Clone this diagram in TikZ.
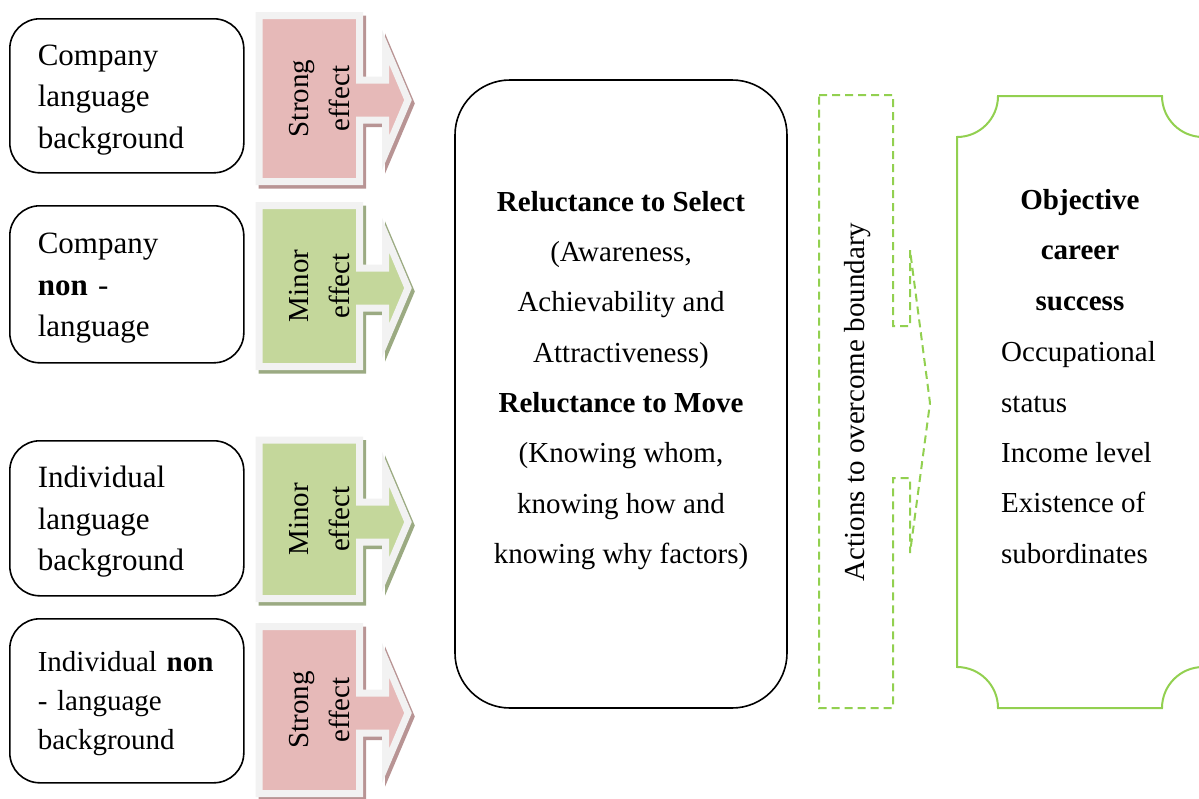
\documentclass[tikz,border=0pt]{standalone}
\usepackage{fontspec}
\setmainfont{Liberation Serif}
\definecolor{pinkfill}{RGB}{230,185,184}
\definecolor{greenfill}{RGB}{196,215,155}
\definecolor{pinkshadow}{RGB}{184,148,148}
\definecolor{greenshadow}{RGB}{155,170,130}
\definecolor{rimgray}{RGB}{242,242,242}
\definecolor{leafgreen}{RGB}{146,208,80}
\newcommand{\topstrut}{\rule{0pt}{29pt}}
\tikzset{
  srcbox/.style={draw=black, line width=1.6pt, rounded corners=30pt,
    minimum width=234pt, text width=178pt, inner xsep=28pt, inner ysep=0pt,
    align=left, anchor=north west},
  bigtext/.style={font=\fontsize{31}{41.5}\selectfont},
  smalltext/.style={font=\fontsize{29}{39}\selectfont},
  bodytext/.style={font=\fontsize{29}{50.3}\selectfont},
  efftext/.style={rotate=90, align=center, font=\fontsize{29}{41}\selectfont},
  rimline/.style={draw=rimgray, line width=7pt, line join=miter},
  greenline/.style={draw=leafgreen, line width=2pt},
  greendash/.style={draw=leafgreen, line width=2pt, dash pattern=on 8pt off 5pt}
}
\newcommand{\effectarrow}[7]{%
  \filldraw[fill=#6, draw=#6, line width=7pt, shift={(3,3.5)}]
    (259,{#2}) -- (359.5,{#2}) -- (359.5,{#4-20}) -- (385.5,{#4-20}) -- (385.5,{#4-53})
    -- (408,{#4}) -- (385.5,{#4+53}) -- (385.5,{#4+20}) -- (359.5,{#4+20})
    -- (359.5,{#3}) -- (259,{#3}) -- cycle;
  \filldraw[fill=#5, rimline]
    (259,{#2}) -- (359.5,{#2}) -- (359.5,{#4-20}) -- (385.5,{#4-20}) -- (385.5,{#4-53})
    -- (408,{#4}) -- (385.5,{#4+53}) -- (385.5,{#4+20}) -- (359.5,{#4+20})
    -- (359.5,{#3}) -- (259,{#3}) -- cycle;
  \node[efftext] (#1) at (320,{(#2+#3)/2}) {#7};
}
\begin{document}
\begin{tikzpicture}[x=1pt, y=-1pt]
\useasboundingbox (0,0) rectangle (1199,798);
\clip (0,0) rectangle (1199,798);

% left source boxes
\node[srcbox, bigtext, minimum height=154pt] (b1) at (9,18)
  {\topstrut Company\\language\\background};
\node[srcbox, bigtext, minimum height=157pt] (b2) at (9,205)
  {\topstrut Company\\\textbf{non} -\\language};
\node[srcbox, bigtext, minimum height=155pt] (b3) at (9,440)
  {\topstrut Individual\\language\\background};
\node[srcbox, smalltext, minimum height=164pt] (b4) at (9,618)
  {\rule{0pt}{26pt}Individual \textbf{non}\\- language\\background};

% effect arrows
\effectarrow{e1}{15.5}{181.5}{100}{pinkfill}{pinkshadow}{Strong\\effect}
\effectarrow{e2}{205.5}{366.5}{288}{greenfill}{greenshadow}{Minor\\effect}
\effectarrow{e3}{440}{598.5}{522}{greenfill}{greenshadow}{Minor\\effect}
\effectarrow{e4}{626.5}{793.5}{713}{pinkfill}{pinkshadow}{Strong\\effect}

% central box
\node[draw=black, line width=1.6pt, rounded corners=55pt,
      minimum width=332pt, minimum height=628pt] (rel) at (621,394) {};
\node[bodytext, align=center] (reltext) at (621,380.5)
  {\textbf{Reluctance to Select}\\(Awareness,\\Achievability and\\Attractiveness)\\
   \textbf{Reluctance to Move}\\(Knowing whom,\\knowing how and\\knowing why factors)};

% dashed action shape
\draw[greendash] (819,95) -- (893,95) -- (893,326) -- (910,326) -- (910,250)
  -- (930,403) -- (910,553) -- (910,478) -- (893,478) -- (893,708) -- (819,708) -- cycle;
\node[efftext, font=\fontsize{29}{35}\selectfont] (act) at (858,402)
  {Actions to overcome boundary};

% plaque
\draw[greenline] (957,137) arc[start angle=90, end angle=0, radius=41]
  -- (1162,96) arc[start angle=180, end angle=90, radius=41]
  -- (1203,667) arc[start angle=270, end angle=180, radius=41]
  -- (998,708) arc[start angle=0, end angle=-90, radius=41] -- cycle;
\node[bodytext, align=center] (obj) at (1080,250)
  {\textbf{Objective}\\\textbf{career}\\\textbf{success}};
\node[bodytext, align=left, anchor=west, inner xsep=0pt] (objlist) at (1001,452.5)
  {Occupational\\status\\Income level\\Existence of\\subordinates};
\end{tikzpicture}
\end{document}
